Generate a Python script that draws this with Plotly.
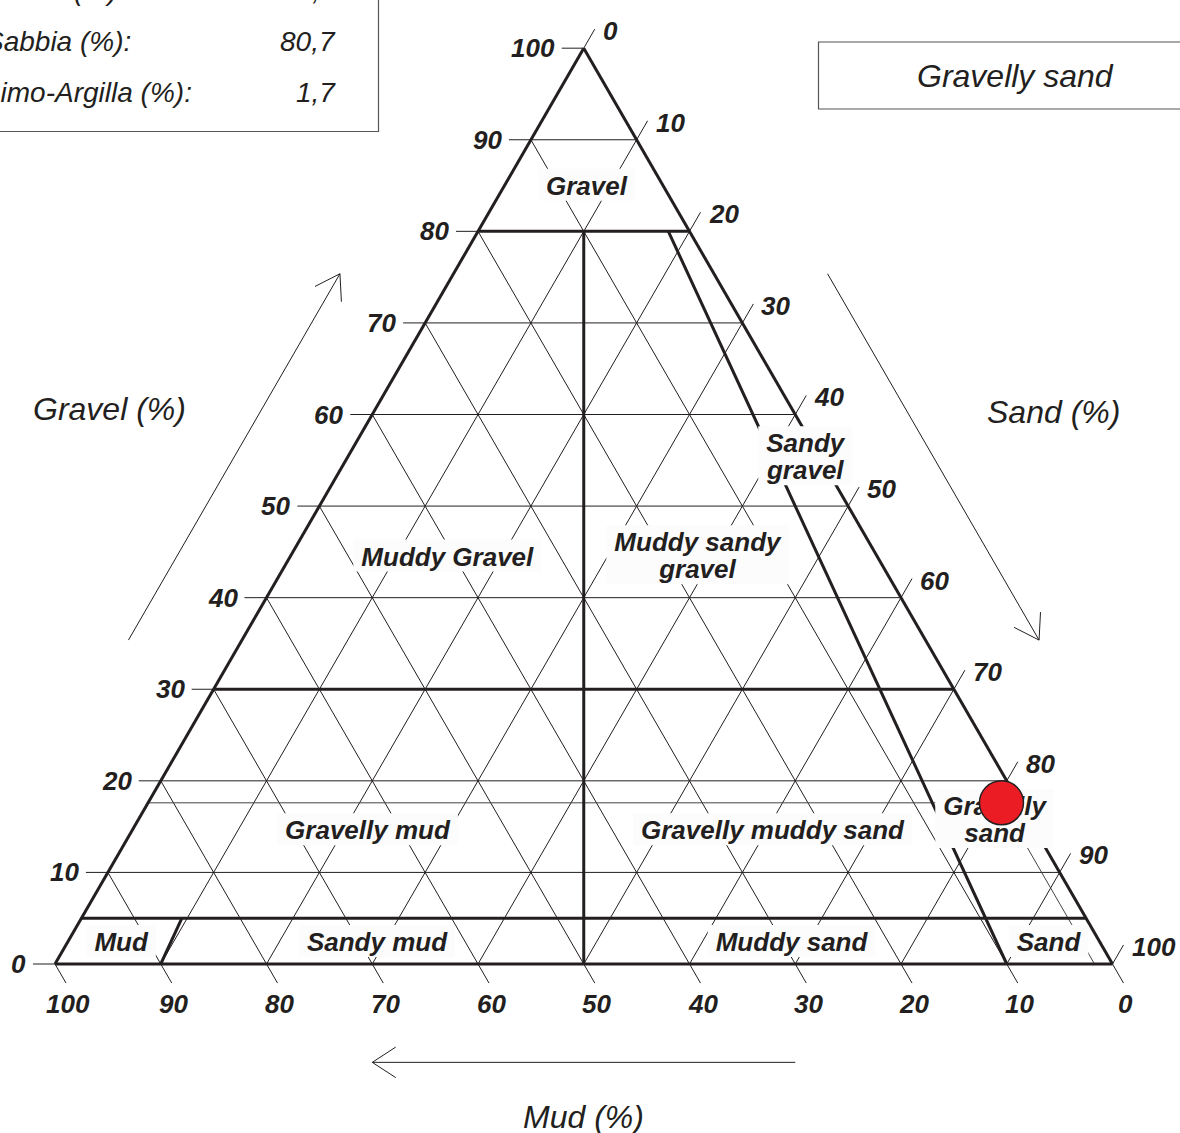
import math
import plotly.graph_objects as go

# ---------------------------------------------------------------- data
# Sample grain-size composition (%)
sample_gravel = 17.6
sample_sand = 80.7
sample_mud = 1.7
sample_class = "Gravelly sand"

# Summary table rows
summary_labels = ["Ghiaia (%):", "Sabbia (%):", "Limo-Argilla (%):"]
summary_values = ["17,6", "80,7", "1,7"]

# Axis ticks and grid
tick_values = [0, 10, 20, 30, 40, 50, 60, 70, 80, 90, 100]
grid_values = [10, 20, 30, 40, 50, 60, 70, 80, 90]

# Folk (1954) class limits: gravel thresholds and sand:(sand+mud) fractions
gravel_limits = [80, 30, 5]
sand_fraction_limits = [0.5, 0.9, 0.1]
sand_fraction_top = [80, 80, 5]      # gravel % where each ratio line starts

class_names = ["Gravel", "Sandy<br>gravel", "Muddy Gravel", "Muddy sandy<br>gravel",
               "Gravelly mud", "Gravelly muddy sand", "Gravelly<br>sand",
               "Mud", "Sandy mud", "Muddy sand", "Sand"]

axis_titles = ["Gravel (%)", "Sand (%)", "Mud (%)"]

# ---------------------------------------------------------------- geometry
SQ = math.sqrt(3) / 2
PX = 10.575                      # pixels per percent unit
W, H = 1180, 1133
BASE_LEFT_PX, BASE_PX = 55, 964  # where the triangle's bottom-left corner sits
INK = "#231f20"
FONT = "Liberation Sans, Arial, Helvetica, sans-serif"


def xy(g, s):
    """Gravel/sand percentages -> cartesian position (mud is the remainder)."""
    return s + g / 2.0, g * SQ


def add(p, d, v):
    return p[0] + d * v[0], p[1] + d * v[1]


def segments(pairs):
    xs, ys = [], []
    for a, b in pairs:
        xs += [a[0], b[0], None]
        ys += [a[1], b[1], None]
    return xs, ys


fig = go.Figure()

# thin grid lines of the three components
grid = []
for v in grid_values:
    grid.append((xy(v, 0), xy(v, 100 - v)))          # constant gravel
    grid.append((xy(0, v), xy(100 - v, v)))          # constant sand
    grid.append((xy(0, 100 - v), xy(100 - v, 0)))    # constant mud

# tick marks, continuing the grid directions outside the triangle
T = 22 / PX
gravel_dir, sand_dir, mud_dir = (-1, 0), (0.5, SQ), (0.5, -SQ)
tick_ends = {"g": [], "s": [], "m": []}
for v in tick_values:
    p = xy(v, 0)
    e = add(p, T, gravel_dir)
    grid.append((p, e)); tick_ends["g"].append(e)
    p = xy(100 - v, v)
    e = add(p, T, sand_dir)
    grid.append((p, e)); tick_ends["s"].append(e)
    p = xy(0, 100 - v)
    e = add(p, T, mud_dir)
    grid.append((p, e)); tick_ends["m"].append(e)

gx, gy = segments(grid)
fig.add_trace(go.Scatter(x=gx, y=gy, mode="lines", hoverinfo="skip",
                         line=dict(color=INK, width=1)))

# guide lines from the sample to the three axes
pt = xy(sample_gravel, sample_sand)
guide = [(xy(sample_gravel, 0), pt),
         (pt, xy(0, 100 - sample_mud)),
         (pt, xy(100 - sample_sand, sample_sand))]
gx, gy = segments(guide)
fig.add_trace(go.Scatter(x=gx, y=gy, mode="lines", hoverinfo="skip",
                         line=dict(color="#444444", width=1)))

# class boundaries and outer frame
thick = [(xy(100, 0), xy(0, 0)), (xy(0, 0), xy(0, 100)), (xy(0, 100), xy(100, 0))]
for g in gravel_limits:
    thick.append((xy(g, 0), xy(g, 100 - g)))
for f, gtop in zip(sand_fraction_limits, sand_fraction_top):
    thick.append((xy(gtop, f * (100 - gtop)), xy(0, f * 100)))
tx, ty = segments(thick)
fig.add_trace(go.Scatter(x=tx, y=ty, mode="lines", hoverinfo="skip",
                         line=dict(color=INK, width=3)))

# axis arrows (30 -> 70 along each side, offset outward)
def arrow(p0, p1):
    dx, dy = p1[0] - p0[0], p1[1] - p0[1]
    L = math.hypot(dx, dy)
    bx, by = -dx / L, -dy / L
    head, ang = 28 / PX, math.radians(33)
    pts_x, pts_y = [p0[0], p1[0], None], [p0[1], p1[1], None]
    for sg in (1, -1):
        c, s = math.cos(sg * ang), math.sin(sg * ang)
        ax_, ay_ = bx * c - by * s, bx * s + by * c
        pts_x += [p1[0], p1[0] + head * ax_, None]
        pts_y += [p1[1], p1[1] + head * ay_, None]
    return pts_x, pts_y


OFF = 9.3
n_left, n_right, n_base = (-SQ, 0.5), (SQ, 0.5), (0, -1)
arrows = [
    (add(xy(30, 0), OFF, n_left), add(xy(70, 0), OFF, n_left)),
    (add(xy(70, 30), OFF, n_right), add(xy(30, 70), OFF, n_right)),
    (add(xy(0, 70), OFF, n_base), add(xy(0, 30), OFF, n_base)),
]
for a, b in arrows:
    ax_, ay_ = arrow(a, b)
    fig.add_trace(go.Scatter(x=ax_, y=ay_, mode="lines", hoverinfo="skip",
                             line=dict(color=INK, width=1)))

# class labels with light backing boxes
LABEL_AT = {  # (gravel %, sand %) of each label centre
    "Gravel": (85.1, 7.7),
    "Sandy<br>gravel": (55.5, 43.2),
    "Muddy Gravel": (44.6, 14.8),
    "Muddy sandy<br>gravel": (44.7, 38.4),
    "Gravelly mud": (14.7, 22.2),
    "Gravelly muddy sand": (14.7, 60.5),
    "Gravelly<br>sand": (15.9, 80.9),
    "Mud": (2.5, 5.0),
    "Sandy mud": (2.5, 29.2),
    "Muddy sand": (2.5, 68.4),
    "Sand": (2.5, 92.7),
}
BOLD_EM = {"a": .556, "b": .611, "c": .556, "d": .611, "e": .556, "f": .333,
           "g": .611, "h": .611, "i": .278, "k": .556, "l": .278, "m": .889,
           "n": .611, "o": .611, "p": .611, "r": .389, "s": .556, "t": .333,
           "u": .611, "v": .556, "w": .778, "y": .556, " ": .278, "G": .778,
           "M": .833, "S": .667}
LFS = 26
LINE_GAP = 27 / PX

text_x, text_y, text_s = [], [], []
for name in class_names:
    g, s = LABEL_AT[name]
    cx, cy = xy(g, s)
    lines = name.split("<br>")
    n = len(lines)
    wpx = max(sum(BOLD_EM.get(ch, .6) for ch in ln) * LFS + 4 for ln in lines) + 12
    hpx = (n - 1) * 27 + 32
    hw, hh = wpx / 2 / PX, hpx / 2 / PX
    fig.add_trace(go.Scatter(
        x=[cx - hw, cx + hw, cx + hw, cx - hw, cx - hw],
        y=[cy - hh, cy - hh, cy + hh, cy + hh, cy - hh],
        mode="lines", fill="toself", fillcolor="#fcfcfc",
        line=dict(width=0, color="#fcfcfc"), hoverinfo="skip"))
    for i, ln in enumerate(lines):
        text_x.append(cx)
        text_y.append(cy + ((n - 1) / 2 - i) * LINE_GAP - 3.5 / PX)
        text_s.append(ln)

fig.add_trace(go.Scatter(
    x=text_x, y=text_y, text=text_s, mode="text", textposition="middle center",
    hoverinfo="skip",
    textfont=dict(family=FONT, size=LFS, color=INK, weight="bold", style="italic")))

# the sample
fig.add_trace(go.Scatter(
    x=[pt[0]], y=[pt[1]], mode="markers", hoverinfo="skip",
    marker=dict(size=44, color="#ec1c24", line=dict(color=INK, width=1.5))))

# ---------------------------------------------------------------- annotations
ann = []
tick_font = dict(family=FONT, size=26, color=INK, weight="bold", style="italic")
for v, e in zip(tick_values, tick_ends["g"]):
    ann.append(dict(x=e[0], y=e[1], text=str(v), xanchor="right", yanchor="middle",
                    xshift=-5, showarrow=False, font=tick_font))
for v, e in zip(tick_values, tick_ends["s"]):
    ann.append(dict(x=e[0], y=e[1], text=str(v), xanchor="left", yanchor="middle",
                    xshift=6, yshift=-2, showarrow=False, font=tick_font))
for v, e in zip(tick_values, tick_ends["m"]):
    ann.append(dict(x=e[0], y=e[1], text=str(v), xanchor="center", yanchor="top",
                    xshift=2, yshift=-4, showarrow=False, font=tick_font))

title_font = dict(family=FONT, size=32, color=INK, style="italic")
title_pos = [add(xy(48, 0), 21.8, n_left),
             add(xy(48, 52), 21.3, n_right),
             add(xy(0, 50), 14.5, n_base)]
for t, p in zip(axis_titles, title_pos):
    ann.append(dict(x=p[0], y=p[1], text=t, showarrow=False, font=title_font,
                    xanchor="center", yanchor="middle"))


def px(x):
    return x / W


def py(y):
    return 1 - y / H


box_font = dict(family=FONT, size=28, color=INK, style="italic")
row_y = [-10, 41, 92]
for lab, val, yy in zip(summary_labels, summary_values, row_y):
    ann.append(dict(xref="paper", yref="paper", x=px(-17), y=py(yy), text=lab,
                    xanchor="left", yanchor="middle", showarrow=False, font=box_font))
    ann.append(dict(xref="paper", yref="paper", x=px(338), y=py(yy), text=val,
                    xanchor="right", yanchor="middle", showarrow=False, font=box_font))

ann.append(dict(xref="paper", yref="paper", x=px(1015), y=py(76), text=sample_class,
                xanchor="center", yanchor="middle", showarrow=False,
                font=dict(family=FONT, size=32, color=INK, style="italic")))

shapes = [
    dict(type="rect", xref="paper", yref="paper", x0=px(-20), x1=px(378.5),
         y0=py(131.5), y1=py(-20), line=dict(color="#555555", width=1.2)),
    dict(type="rect", xref="paper", yref="paper", x0=px(818.5), x1=px(1200),
         y0=py(109), y1=py(42), line=dict(color="#555555", width=1.2)),
]

fig.update_layout(
    width=W, height=H, margin=dict(l=0, r=0, t=0, b=0),
    paper_bgcolor="white", plot_bgcolor="white", showlegend=False,
    xaxis=dict(visible=False, range=[-BASE_LEFT_PX / PX, (W - BASE_LEFT_PX) / PX],
               fixedrange=True),
    yaxis=dict(visible=False, range=[-(H - BASE_PX) / PX, BASE_PX / PX],
               fixedrange=True),
    annotations=ann, shapes=shapes,
)

fig.write_html("out.html", config={"displayModeBar": False})
